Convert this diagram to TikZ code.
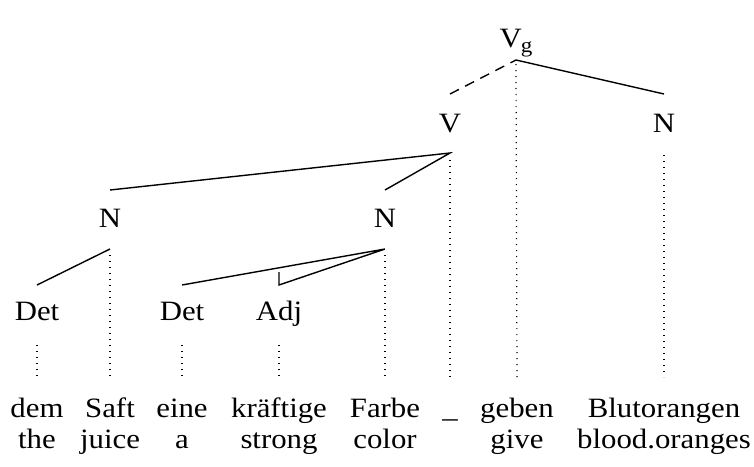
\documentclass[tikz,border=0pt]{standalone}
\usepackage{fontspec}
\setmainfont[FakeStretch=1.1]{Liberation Serif}
\begin{document}
\begin{tikzpicture}[x=0.5pt,y=-0.5pt,
  lbl/.style={font=\fontsize{14}{17}\selectfont, anchor=base, inner sep=0pt},
  br/.style={line width=0.7pt},
  dsh/.style={line width=0.7pt, dash pattern=on 5pt off 3.5pt},
  proj/.style={line width=0.6pt, dash pattern=on 0.6pt off 2.4pt}]
\useasboundingbox (0,0) rectangle (754,466);
% labels
\node[lbl] (Vg) at (516,47) {V\kern-0.5pt\raisebox{-2.6pt}{\fontsize{10.5}{12}\selectfont g}};
\node[lbl] (V) at (450,132) {V};
\node[lbl] (N3) at (664,132) {N};
\node[lbl] (N1) at (110,227) {N};
\node[lbl] (N2) at (385,227) {N};
\node[lbl] (D1) at (37,320) {Det};
\node[lbl] (D2) at (182,320) {Det};
\node[lbl] (A) at (279,320) {Adj};
% words
\node[lbl] (w1) at (37,417) {dem};
\node[lbl] (w2) at (110,417) {Saft};
\node[lbl] (w3) at (182,417) {eine};
\node[lbl] (w4) at (279,417) {kräftige};
\node[lbl] (w5) at (385,417) {Farbe};
\node[lbl] (w6) at (450,417) {\_};
\node[lbl] (w7) at (517,417) {geben};
\node[lbl] (w8) at (664,417) {Blutorangen};
\node[lbl] (g1) at (37,448) {the};
\node[lbl] (g2) at (110,448) {juice};
\node[lbl] (g3) at (182,448) {a};
\node[lbl] (g4) at (279,448) {strong};
\node[lbl] (g5) at (385,448) {color};
\node[lbl] (g7) at (517,448) {give};
\node[lbl] (g8) at (664,448) {blood.oranges};
% attachment points
\coordinate (Vgb) at (516,60);
\coordinate (Vgd) at (516,64);
\coordinate (Vt) at (450,94);
\coordinate (Vb) at (450,153);
\coordinate (Vd) at (450,160);
\coordinate (N3t) at (664,94);
\coordinate (N3d) at (664,155);
\coordinate (N1t) at (110,190);
\coordinate (N1b) at (110,249);
\coordinate (N1d) at (110,255);
\coordinate (N2t) at (385,190);
\coordinate (N2b) at (385,249);
\coordinate (N2d) at (385,255);
\coordinate (D1t) at (37,285);
\coordinate (D2t) at (182,285);
\coordinate (At) at (279,285);
\coordinate (Ak) at (279,272);
\coordinate (D1d) at (37,345);
\coordinate (D2d) at (182,345);
\coordinate (Ad) at (279,345);
\coordinate (e1) at (37,377);
\coordinate (e2) at (110,377);
\coordinate (e3) at (182,377);
\coordinate (e4) at (279,377);
\coordinate (e5) at (385,377);
\coordinate (e6) at (450,377);
\coordinate (e7) at (517,377);
\coordinate (e8) at (664,377);
% branches
\draw[dsh] (Vt) -- (Vgb);
\draw[br] (Vgb) -- (N3t);
\draw[br] (N1t) -- (Vb) -- (N2t);
\draw[br] (D1t) -- (N1b);
\draw[br] (D2t) -- (N2b) -- (At) -- (Ak);
% projections
\draw[proj] (Vgd) -- (e7);
\draw[proj] (Vd) -- (e6);
\draw[proj] (N3d) -- (e8);
\draw[proj] (N1d) -- (e2);
\draw[proj] (N2d) -- (e5);
\draw[proj] (D1d) -- (e1);
\draw[proj] (D2d) -- (e3);
\draw[proj] (Ad) -- (e4);
\end{tikzpicture}
\end{document}
